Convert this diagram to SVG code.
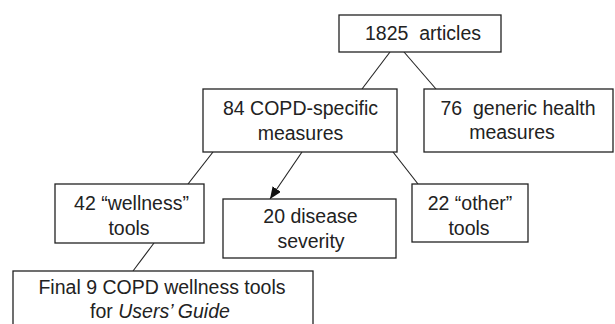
<svg xmlns="http://www.w3.org/2000/svg" width="615" height="324" viewBox="0 0 615 324">
<style>
.box{fill:#fff;stroke:#222;stroke-width:1.3}
.t{font-family:"Liberation Sans",Arial,sans-serif;font-size:19.5px;fill:#222;text-anchor:middle}
.ln{stroke:#222;stroke-width:1.1;fill:none}
</style>
<defs>
<marker id="ah" viewBox="0 0 12 10" refX="12" refY="5" markerWidth="12" markerHeight="10" markerUnits="userSpaceOnUse" orient="auto">
<path d="M0,0 L12,5 L0,10 z" fill="#111"/>
</marker>
</defs>
<rect width="615" height="324" fill="#fff"/>
<g id="connectors">
<line class="ln" x1="390" y1="52" x2="362" y2="89"/>
<line class="ln" x1="404" y1="52" x2="436" y2="89"/>
<line class="ln" x1="213" y1="152" x2="188" y2="184"/>
<line class="ln" x1="302" y1="152" x2="270" y2="199" marker-end="url(#ah)"/>
<line class="ln" x1="393" y1="152" x2="418" y2="184"/>
<line class="ln" x1="154" y1="243" x2="133" y2="271"/>
</g>
<g id="n1825">
<rect class="box" x="339" y="15" width="162" height="37"/>
<text class="t" x="423" y="40" xml:space="preserve">1825  articles</text>
</g>
<g id="n84">
<rect class="box" x="203" y="89" width="194" height="63"/>
<text class="t" x="300.5" y="115">84 COPD-specific</text>
<text class="t" x="300.5" y="140">measures</text>
</g>
<g id="n76">
<rect class="box" x="424" y="89" width="189" height="63"/>
<text class="t" x="518" y="115" xml:space="preserve">76  generic health</text>
<text class="t" x="512" y="139">measures</text>
</g>
<g id="n42">
<rect class="box" x="55" y="184" width="149" height="59"/>
<text class="t" x="131.5" y="210">42 “wellness”</text>
<text class="t" x="129" y="235">tools</text>
</g>
<g id="n20">
<rect class="box" x="223" y="199" width="173" height="59"/>
<text class="t" x="310.5" y="223">20 disease</text>
<text class="t" x="311" y="248">severity</text>
</g>
<g id="n22">
<rect class="box" x="412" y="184" width="116" height="58"/>
<text class="t" x="470" y="210">22 “other”</text>
<text class="t" x="469" y="235">tools</text>
</g>
<g id="nfinal">
<rect class="box" x="13" y="271" width="300" height="60"/>
<text class="t" x="162" y="294">Final 9 COPD wellness tools</text>
<text class="t" x="160" y="318">for <tspan font-style="italic">Users’ Guide</tspan></text>
</g>
</svg>
